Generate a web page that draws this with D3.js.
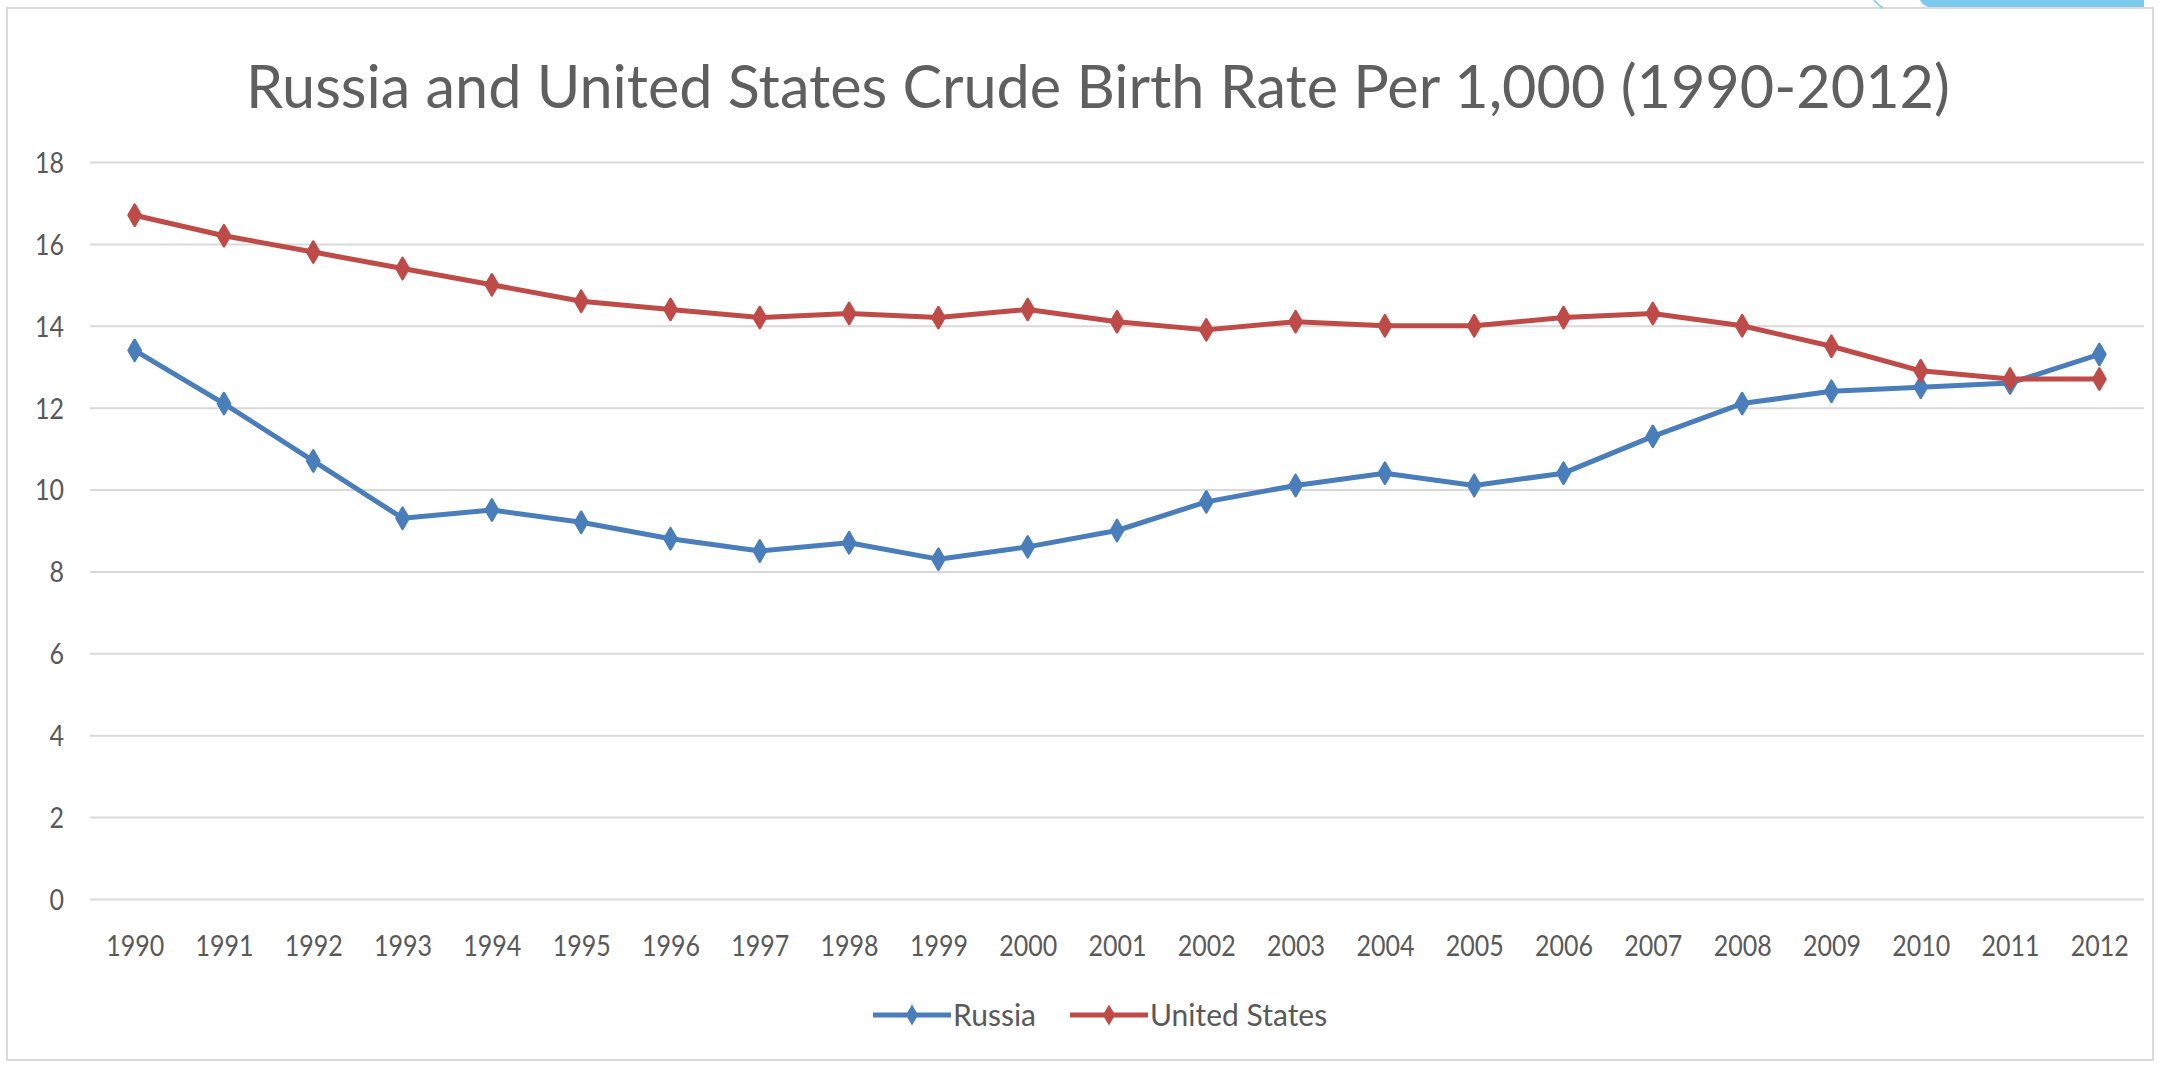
<!DOCTYPE html>
<html>
<head>
<meta charset="utf-8">
<title>Russia and United States Crude Birth Rate</title>
<script src="https://cdn.jsdelivr.net/npm/d3@7"></script>
<style>
  body { margin: 0; background: #fff; }
  svg { display: block; font-family: Lato, "Open Sans", sans-serif; }
</style>
</head>
<body>
<svg id="chart"></svg>
<script>
// data
const years = ['1990', '1991', '1992', '1993', '1994', '1995', '1996', '1997', '1998', '1999', '2000',
    '2001', '2002', '2003', '2004', '2005', '2006', '2007', '2008', '2009', '2010', '2011', '2012'];
const russia = [13.4, 12.1, 10.7, 9.3, 9.5, 9.2, 8.8, 8.5, 8.7, 8.3, 8.6,
    9.0, 9.7, 10.1, 10.4, 10.1, 10.4, 11.3, 12.1, 12.4, 12.5, 12.6, 13.3];
const unitedStates = [16.7, 16.2, 15.8, 15.4, 15.0, 14.6, 14.4, 14.2, 14.3, 14.2, 14.4,
    14.1, 13.9, 14.1, 14.0, 14.0, 14.2, 14.3, 14.0, 13.5, 12.9, 12.7, 12.7];
const yTicks = [0, 2, 4, 6, 8, 10, 12, 14, 16, 18];
const seriesNames = ['Russia', 'United States'];
const titleText = 'Russia and United States Crude Birth Rate Per 1,000 (1990-2012)';

document.addEventListener('DOMContentLoaded', () => {
    const width = 2169;
    const height = 1066;
    const left = 90, right = 2144; // plot area edges
    const top = 162, bottom = 899;
    const colors = ['#4a7ebb', '#be4b48'];
    const textColor = '#595959';

    const svg = d3.select('#chart')
        .attr('width', width)
        .attr('height', height);

    // chart frame
    svg.append('rect')
        .attr('x', 7).attr('y', 8)
        .attr('width', 2146).attr('height', 1052)
        .attr('fill', '#fff')
        .attr('stroke', '#d9d9d9')
        .attr('stroke-width', 2);

    // bit of the slide showing at the top right
    svg.append('path')
        .attr('d', 'M1920,0 Q1922,5 1928,7 L2144,7 L2144,0 Z')
        .attr('fill', '#7ccbec');
    svg.append('path')
        .attr('d', 'M1874,0 Q1878,5 1883,8')
        .attr('fill', 'none')
        .attr('stroke', '#7ccbec')
        .attr('stroke-width', 1.5);

    const x = d3.scalePoint()
        .domain(years)
        .range([left, right])
        .padding(0.5);

    const y = d3.scaleLinear()
        .domain([0, 18])
        .range([bottom, top]);

    // horizontal gridlines
    svg.append('g')
        .attr('transform', `translate(${left},0)`)
        .call(d3.axisLeft(y).tickValues(yTicks).tickSize(-(right - left)).tickFormat(''))
        .call(g => g.select('.domain').remove())
        .call(g => g.selectAll('line').attr('stroke', '#d9d9d9').attr('stroke-width', 2));

    // y labels (text in the picture is a little stretched upright)
    svg.append('g')
        .attr('transform', 'translate(64,0)')
        .call(d3.axisLeft(y).tickValues(yTicks).tickSize(0).tickPadding(0))
        .call(g => g.select('.domain').remove())
        .call(g => g.selectAll('text')
            .attr('dy', '0.36em')
            .attr('transform', 'scale(1,1.15)')
            .attr('fill', textColor)
            .attr('font-size', 25)
            .attr('font-family', 'Lato, sans-serif'));

    // x labels
    svg.append('g')
        .attr('transform', `translate(0,${bottom})`)
        .call(d3.axisBottom(x).tickSize(0))
        .call(g => g.select('.domain').remove())
        .call(g => g.selectAll('text')
            .attr('y', 0)
            .attr('dy', '0.36em')
            .attr('transform', 'translate(0,47) scale(1,1.15)')
            .attr('fill', textColor)
            .attr('font-size', 25)
            .attr('font-family', 'Lato, sans-serif'));

    // lines + markers
    const line = d3.line()
        .x((d, i) => x(years[i]))
        .y(d => y(d));

    const diamond = d3.symbol(d3.symbolDiamond, 130);

    [russia, unitedStates].forEach((values, k) => {
        svg.append('path')
            .datum(values)
            .attr('d', line)
            .attr('fill', 'none')
            .attr('stroke', colors[k])
            .attr('stroke-width', 5)
            .attr('stroke-linejoin', 'round');

        svg.append('g')
            .selectAll('path')
            .data(values)
            .enter()
            .append('path')
            .attr('d', diamond)
            .attr('transform', (d, i) => `translate(${x(years[i])},${y(d)})`)
            .attr('fill', colors[k])
            .attr('stroke', colors[k])
            .attr('stroke-width', 2.5)
            .attr('stroke-linejoin', 'round');
    });

    // title, sized to the width it has in the picture
    const title = svg.append('text')
        .attr('x', 1098)
        .attr('y', 108)
        .attr('text-anchor', 'middle')
        .attr('fill', '#5f5f5f')
        .attr('font-size', 56)
        .text(titleText);
    const tw = title.node().getComputedTextLength();
    title.attr('font-size', 56 * 1704 / tw);

    // legend
    const legendX = [873, 1070];
    const legendY = 1015;
    const legend = svg.append('g')
        .selectAll('g')
        .data(seriesNames)
        .enter()
        .append('g')
        .attr('transform', (d, i) => `translate(${legendX[i]},${legendY})`);

    legend.append('line')
        .attr('x1', 0).attr('x2', 78)
        .attr('stroke', (d, i) => colors[i])
        .attr('stroke-width', 5);

    legend.append('path')
        .attr('d', diamond)
        .attr('transform', 'translate(39,0)')
        .attr('fill', (d, i) => colors[i]);

    legend.append('text')
        .attr('x', 80)
        .attr('dy', '0.36em')
        .attr('fill', textColor)
        .attr('font-size', 30)
        .text(d => d);
});
</script>
</body>
</html>
